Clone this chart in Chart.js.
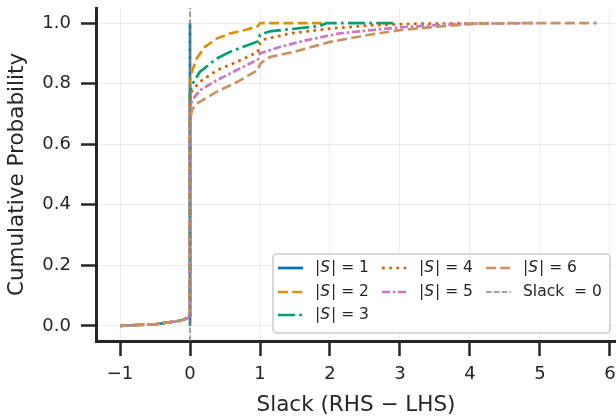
<!DOCTYPE html>
<html>
<head>
<meta charset="utf-8">
<script src="https://cdn.jsdelivr.net/npm/chart.js@4.4.1/dist/chart.umd.min.js"></script>
<style>
  html, body { margin: 0; padding: 0; background: #fff; }
  #wrap { width: 616px; height: 416px; }
</style>
</head>
<body>
<div id="wrap"><canvas id="myChart" width="616" height="416"></canvas></div>
<script>
// ECDF of the slack, one curve per |S|
const tailX = [-1.0, -0.48, -0.14, -0.02, 0];
const tailY = [0.0, 0.006, 0.017, 0.027, 0.035];

const s1X = [0, 0];
const s1Y = [0.0, 1.0];

const s2X = [0, 0.05, 0.1, 0.21, 0.38, 0.57, 0.8, 0.97, 1.0, 1.9];
const s2Y = [0.82, 0.855, 0.885, 0.921, 0.949, 0.966, 0.978, 0.99, 1.0, 1.0];

const s3X = [0, 0.03, 0.14, 0.38, 0.57, 0.8, 0.98, 1.0, 1.14, 1.43, 1.86, 1.95, 2.95];
const s3Y = [0.77, 0.797, 0.839, 0.883, 0.905, 0.925, 0.94, 0.962, 0.973, 0.98, 0.991, 1.0, 1.0];

const s4X = [0, 0.03, 0.14, 0.38, 0.67, 0.97, 1.0, 1.07, 1.43, 2.0, 2.6, 3.2, 4.3];
const s4Y = [0.75, 0.778, 0.806, 0.844, 0.872, 0.905, 0.935, 0.947, 0.966, 0.982, 0.993, 0.998, 1.0];

const s5X = [0, 0.03, 0.14, 0.38, 0.67, 0.97, 1.0, 1.29, 1.67, 2.14, 2.6, 3.1, 3.52, 3.9, 4.9];
const s5Y = [0.72, 0.745, 0.778, 0.811, 0.845, 0.88, 0.9, 0.922, 0.944, 0.966, 0.977, 0.988, 0.993, 0.998, 1.0];

const s6X = [0, 0.024, 0.095, 0.38, 0.67, 0.97, 1.0, 1.07, 1.14, 1.48, 2.0, 2.52, 3.0, 3.52, 4.0, 4.57, 5.81];
const s6Y = [0.66, 0.712, 0.734, 0.773, 0.805, 0.845, 0.865, 0.878, 0.888, 0.905, 0.938, 0.96, 0.977, 0.988, 0.997, 1.0, 1.0];

const slackX = [0, 0];
const slackY = [-0.05, 1.05];

const xTicks = [-1, 0, 1, 2, 3, 4, 5, 6];
const yTicks = [0, 0.2, 0.4, 0.6, 0.8, 1.0];

function pts(xs, ys, withTail) {
  const out = [];
  if (withTail) tailX.forEach((x, i) => out.push({x: x, y: tailY[i]}));
  xs.forEach((x, i) => out.push({x: x, y: ys[i]}));
  return out;
}

const LW = 2.7;
const series = [
  {label: '1', data: pts(s1X, s1Y, false), color: '#0173b2', dash: []},
  {label: '2', data: pts(s2X, s2Y, true), color: '#de8f05', dash: [10, 4.3]},
  {label: '3', data: pts(s3X, s3Y, true), color: '#029e73', dash: [17, 4.3, 2.7, 4.3]},
  {label: '4', data: pts(s4X, s4Y, true), color: '#d55e00', dash: [2.7, 4.5]},
  {label: '5', data: pts(s5X, s5Y, true), color: '#cc78bc', dash: [8, 2.7, 2.7, 2.7]},
  {label: '6', data: pts(s6X, s6Y, true), color: '#ca9161', dash: [10, 4.3]}
];

const datasets = series.map((s, i) => ({
  label: '|S| = ' + s.label,
  data: s.data,
  borderColor: s.color,
  borderWidth: LW,
  borderDash: s.dash,
  borderCapStyle: 'butt',
  pointRadius: 0,
  tension: 0,
  fill: false,
  order: 6 - i
}));
datasets.push({
  label: 'Slack = 0',
  data: pts(slackX, slackY, false),
  borderColor: '#808080',
  borderWidth: 1.5,
  borderDash: [5.5, 2.4],
  pointRadius: 0,
  fill: false,
  order: 0
});

// legend drawn by hand: 3 columns like matplotlib's ncol=3
const legendBox = {
  id: 'legendBox',
  afterDraw(chart) {
    const ctx = chart.ctx;
    const a = chart.chartArea;
    const bx = a.right - 343, by = a.bottom - 87, bw = 337, bh = 79;
    ctx.save();
    ctx.fillStyle = 'rgba(255,255,255,0.85)';
    ctx.strokeStyle = '#cccccc';
    ctx.lineWidth = 1.5;
    ctx.beginPath();
    ctx.roundRect(bx, by, bw, bh, 4);
    ctx.fill();
    ctx.stroke();

    const cols = [bx + 5, bx + 109, bx + 213];
    const rows = [by + 14, by + 38, by + 61];
    const place = [[0, 0], [0, 1], [0, 2], [1, 0], [1, 1], [2, 0], [2, 1]];
    const font = '15.5px "DejaVu Sans"';
    const ital = 'italic 15.5px "DejaVu Sans"';
    chart.data.datasets.forEach((ds, i) => {
      const x = cols[place[i][0]], y = rows[place[i][1]];
      ctx.strokeStyle = ds.borderColor;
      ctx.lineWidth = ds.borderWidth;
      ctx.setLineDash(ds.borderDash || []);
      ctx.lineCap = 'butt';
      ctx.beginPath();
      ctx.moveTo(x, y);
      ctx.lineTo(x + 25, y);
      ctx.stroke();
      ctx.setLineDash([]);
      ctx.fillStyle = '#262626';
      ctx.textBaseline = 'middle';
      let tx = x + 37;
      if (i < 6) {
        const parts = [['|', font], ['S', ital], ['| = ' + series[i].label, font]];
        parts.forEach(p => {
          ctx.font = p[1];
          ctx.fillText(p[0], tx, y);
          tx += ctx.measureText(p[0]).width + (p[0] === 'S' ? 1 : 0);
        });
      } else {
        ctx.font = font;
        ctx.fillText('Slack  = 0', tx, y);
      }
    });
    ctx.restore();
  }
};

const ink = '#262626';
const config = {
  type: 'line',
  data: {datasets},
  options: {
    responsive: false,
    animation: false,
    layout: {padding: {top: 8, right: 0, bottom: 0, left: 0}},
    plugins: {legend: {display: false}, tooltip: {enabled: false}},
    scales: {
      x: {
        type: 'linear',
        min: -1.343,
        max: 6.086,
        afterBuildTicks: s => { s.ticks = xTicks.map(v => ({value: v})); },
        afterFit: s => { s.height = 75; s.paddingLeft = 0; s.paddingRight = 0; },
        ticks: {
          color: ink,
          font: {family: 'DejaVu Sans', size: 18},
          padding: 8,
          maxRotation: 0,
          autoSkip: false,
          callback: v => String(v).replace('-', '\u2212')
        },
        grid: {color: 'rgba(0,0,0,0.07)', lineWidth: 1, tickLength: 15, tickWidth: 2.5, tickColor: ink},
        border: {display: true, color: ink, width: 3},
        title: {display: true, text: 'Slack (RHS \u2212 LHS)', color: ink,
                font: {family: 'DejaVu Sans', size: 21.5}, padding: {top: 0, bottom: -2}}
      },
      y: {
        type: 'linear',
        min: -0.05,
        max: 1.05,
        afterBuildTicks: s => { s.ticks = yTicks.map(v => ({value: v})); },
        afterFit: s => { s.width = 96; s.paddingTop = 0; s.paddingBottom = 0; },
        ticks: {
          color: ink,
          font: {family: 'DejaVu Sans', size: 18},
          padding: 10,
          callback: v => v.toFixed(1)
        },
        grid: {color: 'rgba(0,0,0,0.07)', lineWidth: 1, tickLength: 15, tickWidth: 2.5, tickColor: ink},
        border: {display: true, color: ink, width: 3},
        title: {display: true, text: 'Cumulative Probability', color: ink,
                font: {family: 'DejaVu Sans', size: 21.5}, padding: {top: 5, bottom: 0}}
      }
    }
  },
  plugins: [legendBox]
};

const myChart = new Chart(document.getElementById('myChart'), config);
</script>
</body>
</html>
